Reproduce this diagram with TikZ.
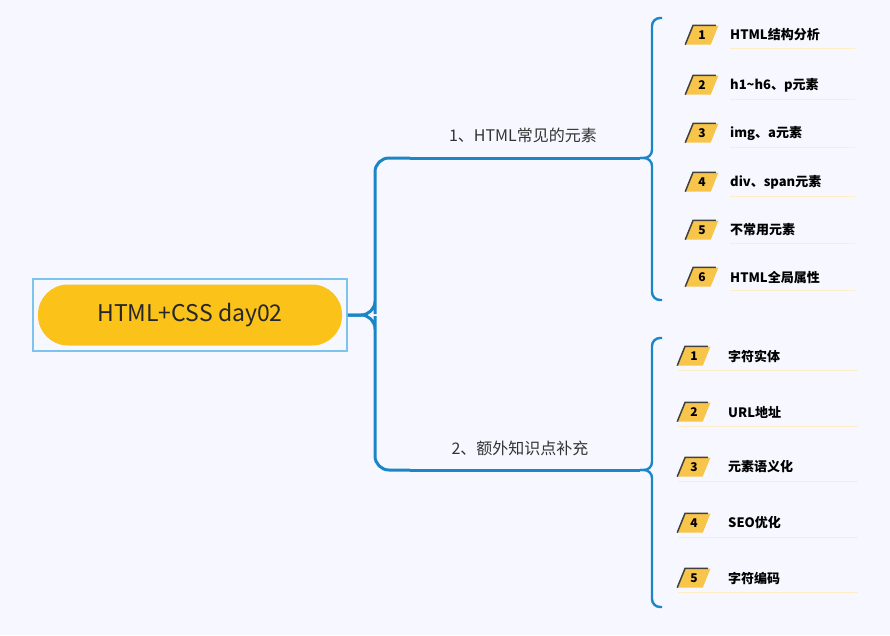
\documentclass[tikz,border=0pt]{standalone}
\usepackage{fontspec}
\setmainfont{Noto Sans CJK SC}
\usetikzlibrary{shapes.geometric}
\definecolor{linkblue}{HTML}{1B86C6}
\definecolor{frameblue}{HTML}{7CC4EC}
\definecolor{rootyellow}{HTML}{FBC21A}
\definecolor{badgeyellow}{HTML}{F7C54A}
\begin{document}
\begin{tikzpicture}[x=1pt,y=-1pt,
    branch/.style={draw=linkblue, line width=3pt, rounded corners=14pt},
    badge/.style={trapezium, trapezium stretches, trapezium left angle=70, trapezium right angle=110,
      fill=badgeyellow, minimum width=33pt, minimum height=19pt, inner sep=0pt,
      font=\bfseries\fontsize{12}{14}\selectfont},
    item/.style={anchor=west, font=\bfseries\fontsize{13}{15}\selectfont, inner sep=0pt},
    label/.style={font=\fontsize{16}{18}\selectfont, text=black!80}
]
    \useasboundingbox[fill=white!97!blue] (0,0) rectangle (890,635);

    % root
    \node[draw=frameblue, line width=1.5pt, minimum width=314pt, minimum height=72pt] (frame) at (190,315) {};
    \node[fill=rootyellow, rounded corners=30pt, minimum width=304pt, minimum height=61pt,
      font=\fontsize{23}{26}\selectfont, text=black!85] (root) at (190,315) {HTML+CSS day02};

    % main brace
    \coordinate (top) at (410,158);
    \coordinate (bot) at (410,470);
    \draw[branch] (top) -| (375,200) -- (375,300) |- (frame.east);
    \draw[branch] (bot) -| (375,420) -- (375,330) |- (frame.east);
    \draw[linkblue, line width=3pt] (top) -- (640,158) coordinate (top end);
    \draw[linkblue, line width=3pt] (bot) -- (640,470) coordinate (bot end);
    \node[label] (lab1) at (523,135) {1、HTML常见的元素};
    \node[label] (lab2) at (520,448) {2、额外知识点补充};

    % sub brackets
    \draw[branch, line width=2.4pt, rounded corners=8pt] (662,18) -| (652,100) -- (652,140) |- (top end);
    \draw[branch, line width=2.4pt, rounded corners=8pt] (662,300) -| (652,210) -- (652,175) |- (top end);
    \draw[branch, line width=2.4pt, rounded corners=8pt] (662,338) -| (652,420) -- (652,455) |- (bot end);
    \draw[branch, line width=2.4pt, rounded corners=8pt] (662,607) -| (652,520) -- (652,485) |- (bot end);

    % group 1
    \foreach \n/\y/\t in {1/35/HTML结构分析, 2/85/h1\textasciitilde h6、p元素, 3/133/img、a元素,
        4/182/div、span元素, 5/230/不常用元素, 6/277/HTML全局属性} {
      \node[badge] (b\n) at (702,\y) {\n};
      \draw[black!75, line width=1.5pt] (b\n.bottom left corner) -- (b\n.top left corner) -- ([xshift=-3pt]b\n.top right corner);
      \node[item] (t\n) at (730,\y) {\t};
      \draw[badgeyellow!30, line width=0.8pt] (t\n.south west) ++(0,7) -- +(125,0);
    }
    % group 2
    \foreach \n/\y/\t in {1/356/字符实体, 2/412/URL地址, 3/467/元素语义化, 4/523/SEO优化, 5/578/字符编码} {
      \node[badge] (c\n) at (694,\y) {\n};
      \draw[black!75, line width=1.5pt] (c\n.bottom left corner) -- (c\n.top left corner) -- ([xshift=-3pt]c\n.top right corner);
      \node[item] (u\n) at (728,\y) {\t};
      \draw[badgeyellow!30, line width=0.8pt] (u\n.south west) ++(-50,8) -- +(180,0);
    }
\end{tikzpicture}
\end{document}
